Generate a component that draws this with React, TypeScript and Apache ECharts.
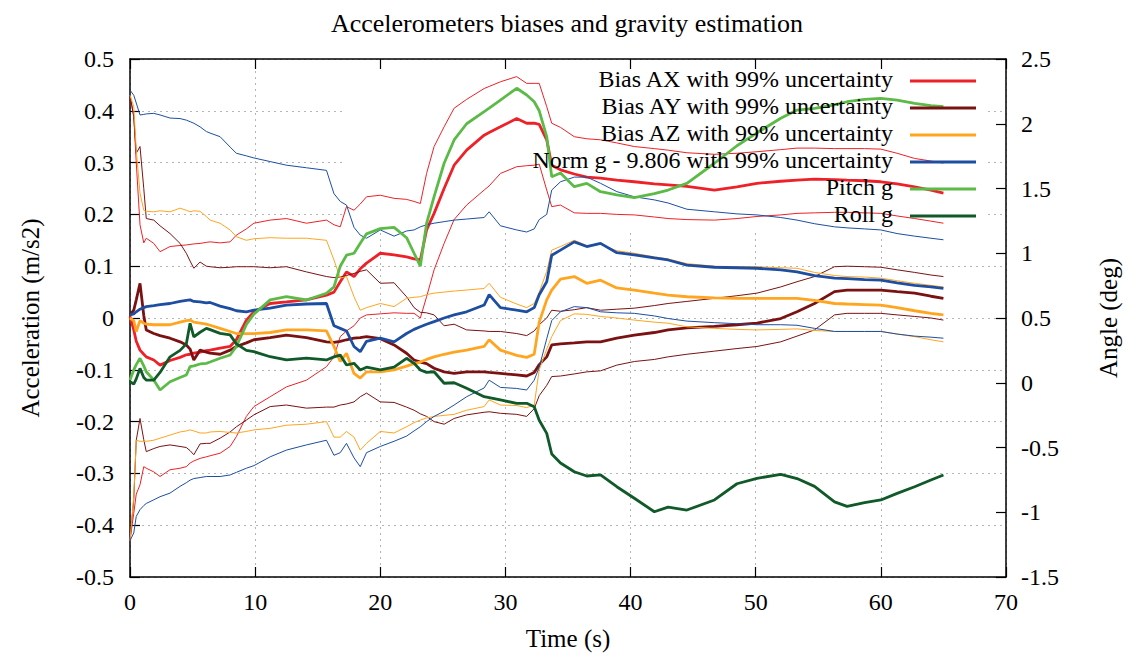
import React, { useEffect, useRef } from 'react';
import * as echarts from 'echarts';

const time = [0,0.3,0.5,0.8,1.1,1.3,1.9,2.4,3.2,4,4.5,4.8,5.1,5.6,6.1,6.4,7.2,8,8.5,9.3,9.9,11.2,12.5,14.1,15.7,16.3,16.8,17.3,17.9,18.4,18.9,20,21.1,22.1,22.7,23.2,23.7,24.3,25.1,25.9,26.9,28.3,28.7,29.6,30.9,31.7,32.3,32.7,33.3,33.7,34.4,35.5,36.5,37.6,38.9,40.3,41.9,43,44.5,46.7,48.5,50.1,52,53.3,54.7,56.3,57.3,58.7,60,61.3,62.7,64,65];

const biasAX = [0.003,-0.023,-0.045,-0.062,-0.07,-0.075,-0.081,-0.091,-0.082,-0.076,
-0.071,-0.07,-0.068,-0.066,-0.063,-0.062,-0.058,-0.055,-0.042,-0.004,
0.012,0.028,0.031,0.035,0.044,0.05,0.07,0.089,0.08,0.095,
0.106,0.125,0.122,0.118,0.114,0.112,0.17,0.202,0.25,0.295,
0.324,0.353,0.358,0.369,0.385,0.376,0.376,0.374,0.344,0.295,
0.286,0.278,0.272,0.27,0.266,0.263,0.259,0.257,0.254,0.247,
0.253,0.26,0.264,0.266,0.268,0.267,0.266,0.265,0.263,0.259,
0.253,0.247,0.241];
const biasAXUpper = [0.43,0.389,0.3,0.18,0.145,0.154,0.144,0.128,0.138,0.14,
0.141,0.142,0.143,0.144,0.146,0.147,0.145,0.147,0.16,0.172,
0.183,0.189,0.192,0.183,0.189,0.18,0.176,0.215,0.208,0.22,
0.234,0.237,0.231,0.229,0.225,0.221,0.279,0.331,0.369,0.405,
0.422,0.443,0.447,0.456,0.466,0.453,0.453,0.453,0.408,0.376,
0.368,0.35,0.346,0.344,0.338,0.331,0.327,0.324,0.319,0.316,
0.318,0.321,0.325,0.328,0.328,0.327,0.327,0.327,0.326,0.318,
0.308,0.303,0.299];
const biasAXLower = [-0.43,-0.377,-0.34,-0.322,-0.287,-0.29,-0.297,-0.306,-0.293,-0.29,
-0.287,-0.28,-0.276,-0.271,-0.268,-0.266,-0.261,-0.248,-0.229,-0.19,
-0.171,-0.152,-0.133,-0.12,-0.094,-0.075,-0.036,-0.025,-0.015,0.0,
0.006,0.008,0.01,0.009,0.009,0.0,0.041,0.093,0.144,0.19,
0.218,0.247,0.255,0.279,0.292,0.294,0.295,0.297,0.247,0.215,
0.218,0.203,0.202,0.202,0.2,0.199,0.195,0.192,0.19,0.189,
0.192,0.196,0.199,0.202,0.203,0.204,0.204,0.203,0.202,0.197,
0.192,0.187,0.183];

const biasAY = [0.006,0.015,0.035,0.067,0.005,-0.023,-0.03,-0.034,-0.039,-0.046,
-0.052,-0.06,-0.081,-0.062,-0.066,-0.068,-0.07,-0.062,-0.055,-0.048,
-0.042,-0.038,-0.033,-0.038,-0.046,-0.047,-0.045,-0.042,-0.039,-0.038,
-0.036,-0.04,-0.052,-0.068,-0.081,-0.085,-0.088,-0.097,-0.104,-0.107,
-0.104,-0.104,-0.105,-0.107,-0.11,-0.112,-0.105,-0.09,-0.075,-0.052,
-0.05,-0.048,-0.046,-0.046,-0.039,-0.033,-0.028,-0.023,-0.019,-0.016,
-0.013,-0.01,-0.001,0.012,0.028,0.051,0.054,0.054,0.054,0.051,
0.048,0.042,0.038];
const biasAYUpper = [0.43,0.389,0.318,0.331,0.25,0.192,0.189,0.178,0.163,0.144,
0.125,0.11,0.096,0.108,0.1,0.099,0.097,0.098,0.099,0.099,
0.099,0.097,0.099,0.089,0.08,0.078,0.079,0.082,0.086,0.09,
0.093,0.067,0.068,0.041,0.02,0.011,0.01,0.006,-0.015,-0.012,
-0.023,-0.025,-0.026,-0.026,-0.03,-0.034,-0.025,-0.013,0.0,0.015,
0.013,0.016,0.02,0.015,0.017,0.019,0.024,0.028,0.032,0.038,
0.043,0.048,0.06,0.07,0.08,0.099,0.1,0.099,0.098,0.093,
0.088,0.083,0.08];
const biasAYLower = [-0.43,-0.35,-0.236,-0.194,-0.235,-0.258,-0.252,-0.248,-0.245,-0.248,
-0.25,-0.256,-0.264,-0.243,-0.242,-0.242,-0.232,-0.22,-0.21,-0.197,
-0.187,-0.171,-0.168,-0.174,-0.172,-0.172,-0.168,-0.166,-0.162,-0.152,
-0.145,-0.162,-0.163,-0.172,-0.178,-0.185,-0.19,-0.2,-0.205,-0.194,
-0.187,-0.182,-0.181,-0.184,-0.186,-0.19,-0.175,-0.15,-0.13,-0.113,
-0.112,-0.108,-0.104,-0.102,-0.091,-0.084,-0.08,-0.075,-0.07,-0.064,
-0.059,-0.055,-0.046,-0.035,-0.023,0.006,0.009,0.009,0.009,0.006,
0.003,0.0,-0.004];

const biasAZ = [0.0,-0.005,-0.026,-0.005,-0.01,-0.012,-0.013,-0.013,-0.013,-0.008,
-0.005,-0.004,-0.008,-0.01,-0.012,-0.014,-0.02,-0.026,-0.03,-0.03,
-0.03,-0.028,-0.023,-0.023,-0.025,-0.055,-0.084,-0.068,-0.107,-0.116,
-0.104,-0.104,-0.1,-0.093,-0.088,-0.085,-0.08,-0.075,-0.07,-0.066,
-0.062,-0.055,-0.042,-0.062,-0.072,-0.076,-0.07,-0.008,0.035,0.054,
0.075,0.08,0.067,0.073,0.058,0.054,0.048,0.044,0.041,0.039,
0.038,0.038,0.038,0.038,0.034,0.028,0.027,0.026,0.025,0.02,
0.014,0.009,0.006];
const biasAZUpper = [0.43,0.408,0.324,0.241,0.208,0.206,0.205,0.207,0.205,0.212,
0.208,0.205,0.207,0.206,0.196,0.189,0.183,0.17,0.157,0.15,
0.153,0.155,0.154,0.154,0.15,0.112,0.077,0.08,0.041,0.015,
0.02,0.028,0.022,0.038,0.04,0.041,0.045,0.048,0.05,0.052,
0.054,0.057,0.067,0.04,0.027,0.02,0.028,0.05,0.09,0.131,
0.138,0.15,0.14,0.142,0.13,0.125,0.118,0.114,0.105,0.1,
0.099,0.099,0.097,0.096,0.088,0.082,0.08,0.079,0.077,0.072,
0.067,0.063,0.06];
const biasAZLower = [-0.43,-0.345,-0.236,-0.238,-0.238,-0.238,-0.236,-0.232,-0.226,-0.22,
-0.218,-0.216,-0.218,-0.222,-0.222,-0.22,-0.219,-0.221,-0.222,-0.219,
-0.216,-0.213,-0.207,-0.205,-0.2,-0.23,-0.23,-0.219,-0.23,-0.255,
-0.242,-0.219,-0.222,-0.21,-0.202,-0.197,-0.193,-0.19,-0.188,-0.186,
-0.178,-0.171,-0.158,-0.168,-0.169,-0.173,-0.168,-0.1,-0.06,-0.036,
-0.005,0.008,0.007,0.003,0.0,-0.004,-0.008,-0.01,-0.017,-0.02,
-0.022,-0.023,-0.022,-0.021,-0.024,-0.026,-0.026,-0.026,-0.026,-0.031,
-0.036,-0.042,-0.046];

const normG = [0.006,0.008,0.012,0.017,0.02,0.022,0.024,0.026,0.028,0.032,
0.034,0.035,0.032,0.031,0.029,0.03,0.023,0.018,0.014,0.012,
0.015,0.019,0.025,0.027,0.028,-0.015,-0.02,-0.025,-0.055,-0.065,
-0.045,-0.039,-0.046,-0.03,-0.022,-0.017,-0.012,-0.007,0.0,0.006,
0.012,0.025,0.045,0.02,0.015,0.012,0.02,0.045,0.07,0.121,
0.131,0.147,0.138,0.144,0.126,0.122,0.116,0.112,0.102,0.098,
0.097,0.096,0.093,0.089,0.082,0.077,0.076,0.074,0.073,0.068,
0.063,0.06,0.057];
const normGUpper = [0.44,0.43,0.415,0.392,0.393,0.394,0.395,0.392,0.386,0.385,
0.382,0.379,0.376,0.369,0.36,0.357,0.35,0.33,0.318,0.313,
0.309,0.302,0.295,0.29,0.285,0.24,0.225,0.218,0.175,0.16,
0.154,0.17,0.158,0.168,0.17,0.176,0.18,0.183,0.186,0.189,
0.191,0.194,0.205,0.178,0.17,0.166,0.172,0.19,0.2,0.247,
0.263,0.272,0.272,0.26,0.244,0.234,0.228,0.222,0.21,0.205,
0.201,0.199,0.194,0.189,0.182,0.176,0.174,0.172,0.17,0.163,
0.158,0.154,0.151];
const normGLower = [-0.43,-0.415,-0.383,-0.37,-0.362,-0.358,-0.351,-0.345,-0.338,-0.325,
-0.318,-0.313,-0.31,-0.308,-0.306,-0.306,-0.306,-0.303,-0.298,-0.29,
-0.285,-0.268,-0.255,-0.245,-0.236,-0.265,-0.26,-0.242,-0.27,-0.287,
-0.26,-0.248,-0.238,-0.228,-0.218,-0.21,-0.2,-0.19,-0.18,-0.168,
-0.152,-0.135,-0.12,-0.134,-0.136,-0.139,-0.12,-0.095,-0.04,-0.005,
0.012,0.022,0.02,0.012,0.01,0.009,0.004,-0.001,-0.006,-0.009,
-0.011,-0.013,-0.013,-0.014,-0.02,-0.026,-0.026,-0.026,-0.026,-0.031,
-0.035,-0.037,-0.039];

const pitchG = [0.021,0.099,0.14,0.189,0.13,0.085,0.021,-0.056,0.008,0.04,
0.06,0.124,0.13,0.145,0.15,0.16,0.189,0.214,0.28,0.45,
0.53,0.64,0.665,0.639,0.691,0.74,0.9,0.985,1.0,1.077,
1.15,1.19,1.2,1.12,1.0,0.9,1.231,1.437,1.695,1.875,
2.0,2.093,2.12,2.183,2.274,2.222,2.17,2.1,1.9,1.591,
1.62,1.514,1.54,1.475,1.45,1.43,1.46,1.488,1.54,1.695,
1.83,1.93,2.042,2.106,2.119,2.145,2.17,2.189,2.196,2.183,
2.158,2.14,2.132];
const rollG = [0.008,-0.01,0.03,0.111,0.04,0.021,0.021,0.08,0.2,0.25,
0.3,0.459,0.355,0.39,0.42,0.41,0.381,0.37,0.3,0.25,
0.24,0.201,0.176,0.19,0.176,0.2,0.214,0.137,0.15,0.099,
0.12,0.099,0.12,0.189,0.15,0.099,0.08,0.085,-0.004,0.0,
-0.043,-0.108,-0.115,-0.133,-0.159,-0.159,-0.185,-0.29,-0.391,-0.55,
-0.62,-0.687,-0.72,-0.712,-0.803,-0.892,-0.996,-0.96,-0.983,-0.905,
-0.78,-0.738,-0.707,-0.74,-0.8,-0.92,-0.955,-0.925,-0.905,-0.854,
-0.803,-0.751,-0.712];

const legendLabels = [
  'Bias AX with 99% uncertainty',
  'Bias AY with 99% uncertainty',
  'Bias AZ with 99% uncertainty',
  'Norm g - 9.806 with 99% uncertainty',
  'Pitch g',
  'Roll g',
];
const seriesColors = ['#ee2128', '#7a1212', '#ffa520', '#1d4ea2', '#5cba47', '#0f5a28'];

const FONT = "'Liberation Serif', 'Times New Roman', Times, serif";

export default function App() {
  const ref = useRef<HTMLDivElement>(null);
  useEffect(() => {
    if (!ref.current) return;
    const chart = echarts.init(ref.current, null, { renderer: 'svg' });
    const pairs = (arr: number[]) => time.map((t, i) => [t, arr[i]]);
    const line = (name: string, arr: number[], color: string, width: number, yAxisIndex = 0) => ({
      name,
      type: 'line',
      data: pairs(arr),
      xAxisIndex: 0,
      yAxisIndex,
      showSymbol: false,
      symbol: 'none',
      silent: true,
      z: 2,
      lineStyle: { color, width },
      itemStyle: { color },
    });
    const [cAX, cAY, cAZ, cN, cP, cR] = seriesColors;
    const thin = 1;
    const thick = 2.8;
    const axisLineStyle = { color: '#000', width: 1.5 };
    const tickStyle = { inside: true, length: 10, lineStyle: { color: '#000', width: 1.2 } };
    const gridLine = { show: true, lineStyle: { color: '#b5b5b5', width: 1, type: [2, 4] } };
    const labelStyle = { color: '#000', fontFamily: FONT, fontSize: 24 };
    const nameStyle = { color: '#000', fontFamily: FONT, fontSize: 25 };

    const rowY = [80, 107, 134, 161, 188, 215];
    const legendGraphics: any[] = [];
    legendLabels.forEach((label, i) => {
      legendGraphics.push({
        type: 'text',
        x: 893,
        y: rowY[i] - 1,
        z: 10,
        silent: true,
        style: { text: label, fill: '#000', fontFamily: FONT, fontSize: 24, align: 'right', verticalAlign: 'middle' },
      });
      legendGraphics.push({
        type: 'line',
        z: 10,
        silent: true,
        shape: { x1: 910, y1: rowY[i] + 1, x2: 976, y2: rowY[i] + 1 },
        style: { stroke: seriesColors[i], lineWidth: 3 },
      });
    });

    const option: any = {
      animation: false,
      backgroundColor: '#ffffff',
      textStyle: { fontFamily: FONT },
      title: {
        text: 'Accelerometers biases and gravity estimation',
        left: 'center',
        top: 5,
        textStyle: { fontFamily: FONT, fontSize: 26, fontWeight: 'normal', color: '#000' },
      },
      grid: { left: 130, right: 128, top: 59, bottom: 83, containLabel: false },
      xAxis: [
        {
          type: 'value', min: 0, max: 70, interval: 10, position: 'bottom',
          name: 'Time (s)', nameLocation: 'middle', nameGap: 49, nameTextStyle: nameStyle,
          axisLine: { show: true, onZero: false, lineStyle: axisLineStyle },
          axisTick: tickStyle,
          axisLabel: { ...labelStyle, margin: 13 },
          splitLine: gridLine,
        },
        {
          type: 'value', min: 0, max: 70, interval: 10, position: 'top', z: 5,
          axisLine: { show: true, onZero: false, lineStyle: axisLineStyle },
          axisTick: tickStyle,
          axisLabel: { show: false },
          splitLine: { show: false },
        },
      ],
      yAxis: [
        {
          type: 'value', min: -0.5, max: 0.5, interval: 0.1, position: 'left',
          name: 'Acceleration (m/s2)', nameLocation: 'middle', nameGap: 87, nameTextStyle: nameStyle,
          axisLine: { show: true, onZero: false, lineStyle: axisLineStyle },
          axisTick: tickStyle,
          axisLabel: { ...labelStyle, margin: 16 },
          splitLine: gridLine,
        },
        {
          type: 'value', min: -1.5, max: 2.5, interval: 0.5, position: 'right', z: 5,
          name: 'Angle (deg)', nameLocation: 'middle', nameGap: 90, nameRotate: 90, nameTextStyle: nameStyle,
          axisLine: { show: true, onZero: false, lineStyle: axisLineStyle },
          axisTick: tickStyle,
          axisLabel: { ...labelStyle, margin: 15 },
          splitLine: { show: false },
        },
      ],
      graphic: [
        { type: 'rect', z: 1, silent: true, shape: { x: 345, y: 60, width: 643, height: 169 }, style: { fill: '#ffffff' } },
        ...legendGraphics,
      ],
      series: [
        line('Bias AX upper', biasAXUpper, cAX, thin),
        line('Bias AX lower', biasAXLower, cAX, thin),
        line('Bias AX with 99% uncertainty', biasAX, cAX, thick),
        line('Bias AY upper', biasAYUpper, cAY, thin),
        line('Bias AY lower', biasAYLower, cAY, thin),
        line('Bias AY with 99% uncertainty', biasAY, cAY, thick),
        line('Bias AZ upper', biasAZUpper, cAZ, thin),
        line('Bias AZ lower', biasAZLower, cAZ, thin),
        line('Bias AZ with 99% uncertainty', biasAZ, cAZ, thick),
        line('Norm g upper', normGUpper, cN, thin),
        line('Norm g lower', normGLower, cN, thin),
        line('Norm g - 9.806 with 99% uncertainty', normG, cN, thick),
        line('Pitch g', pitchG, cP, thick, 1),
        line('Roll g', rollG, cR, thick, 1),
      ],
    };
    chart.setOption(option);
    return () => chart.dispose();
  }, []);
  return <div ref={ref} style={{ position: 'absolute', left: 0, top: 0, width: 1134, height: 660 }} />;
}
